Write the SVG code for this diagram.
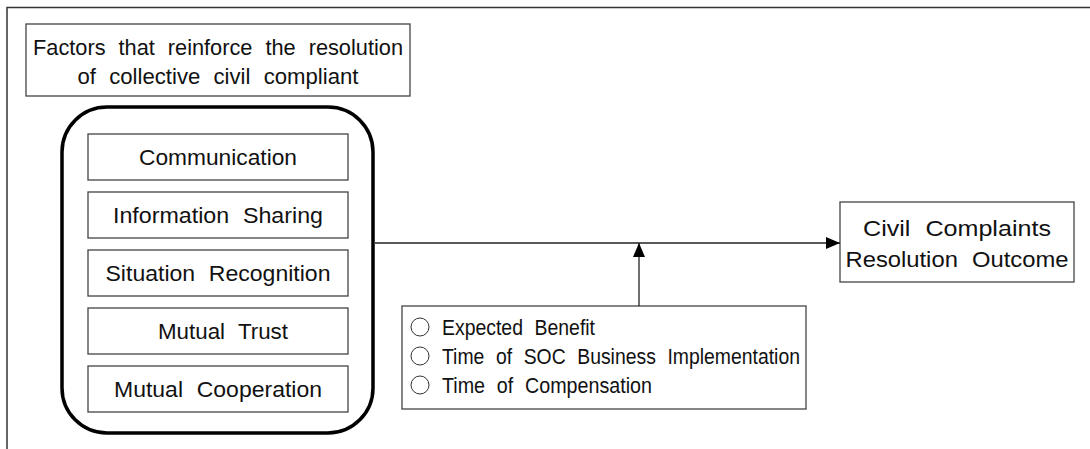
<svg xmlns="http://www.w3.org/2000/svg" width="1090" height="449" viewBox="0 0 1090 449">
<defs>
<style>
.box{fill:#fff;stroke:#444;stroke-width:1.3}
.t{font-family:"Liberation Sans",Arial,sans-serif;font-size:22px;fill:#111;word-spacing:7px}
.c{text-anchor:middle}
.ln{stroke:#222;stroke-width:1.3;fill:none}
.bul{fill:none;stroke:#333;stroke-width:1}
</style>
<marker id="ah" markerWidth="14" markerHeight="12" refX="14" refY="6" orient="auto" markerUnits="userSpaceOnUse">
<path d="M0,0 L14,6 L0,12 Z" fill="#000"/>
</marker>
</defs>
<rect width="1090" height="449" fill="#fff"/>
<g id="frame">
<path d="M7,449 L7,7.5 L1090,7.5" fill="none" stroke="#333" stroke-width="1.5"/>
</g>
<g id="title">
<rect class="box" x="26" y="24" width="384" height="72"/>
<text class="t c" x="218" y="55" textLength="370" lengthAdjust="spacingAndGlyphs">Factors that reinforce the resolution</text>
<text class="t c" x="218" y="84" textLength="281" lengthAdjust="spacingAndGlyphs">of collective civil compliant</text>
</g>
<g id="factors">
<rect x="62" y="107" width="311" height="326" rx="45" ry="45" fill="#fff" stroke="#000" stroke-width="3.5"/>
<g id="communication">
<rect class="box" x="88" y="134" width="260" height="46"/>
<text class="t c" x="218" y="165" textLength="158" lengthAdjust="spacingAndGlyphs">Communication</text>
</g>
<g id="information-sharing">
<rect class="box" x="88" y="192" width="260" height="46"/>
<text class="t c" x="218" y="223" textLength="210" lengthAdjust="spacingAndGlyphs">Information Sharing</text>
</g>
<g id="situation-recognition">
<rect class="box" x="88" y="250" width="260" height="46"/>
<text class="t c" x="218" y="281" textLength="225" lengthAdjust="spacingAndGlyphs">Situation Recognition</text>
</g>
<g id="mutual-trust">
<rect class="box" x="88" y="308" width="260" height="46"/>
<text class="t c" x="223" y="339" textLength="130" lengthAdjust="spacingAndGlyphs">Mutual Trust</text>
</g>
<g id="mutual-cooperation">
<rect class="box" x="88" y="366" width="260" height="46"/>
<text class="t c" x="218" y="397" textLength="208" lengthAdjust="spacingAndGlyphs">Mutual Cooperation</text>
</g>
</g>
<g id="outcome">
<rect class="box" x="840" y="202" width="234" height="80"/>
<text class="t c" x="957" y="236" textLength="188" lengthAdjust="spacingAndGlyphs">Civil Complaints</text>
<text class="t c" x="957" y="267" textLength="223" lengthAdjust="spacingAndGlyphs">Resolution Outcome</text>
</g>
<g id="moderators">
<rect class="box" x="402" y="306" width="404" height="103"/>
<circle class="bul" cx="420" cy="327" r="9"/>
<circle class="bul" cx="420" cy="356" r="9"/>
<circle class="bul" cx="420" cy="385" r="9"/>
<text class="t" x="442" y="335" textLength="153" lengthAdjust="spacingAndGlyphs">Expected Benefit</text>
<text class="t" x="442" y="364" textLength="358" lengthAdjust="spacingAndGlyphs">Time of SOC Business Implementation</text>
<text class="t" x="442" y="393" textLength="210" lengthAdjust="spacingAndGlyphs">Time of Compensation</text>
</g>
<g id="connectors">
<line class="ln" x1="375" y1="243" x2="840" y2="243" marker-end="url(#ah)"/>
<line class="ln" x1="639" y1="306" x2="639" y2="243" marker-end="url(#ah)"/>
</g>
</svg>
